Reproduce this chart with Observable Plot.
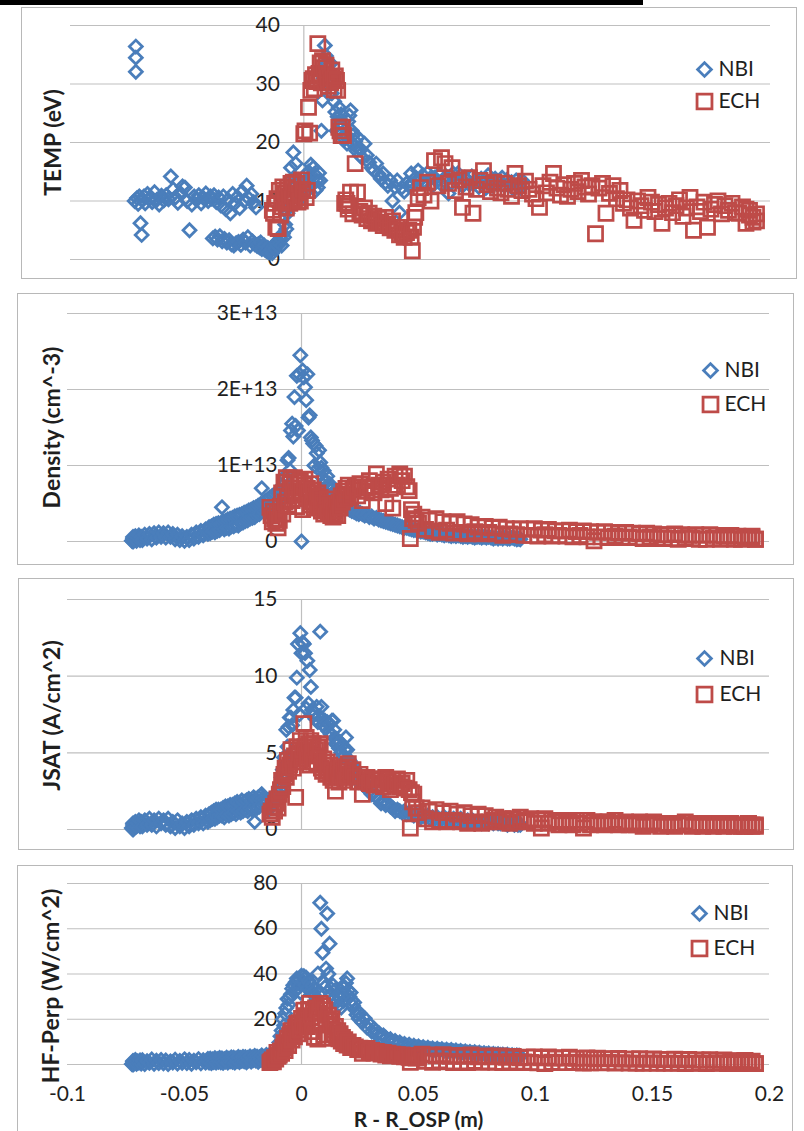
<!DOCTYPE html>
<html>
<head>
<meta charset="utf-8">
<script src="https://cdn.jsdelivr.net/npm/d3@7"></script>
<script src="https://cdn.jsdelivr.net/npm/@observablehq/plot@0.6"></script>
<style>
  html, body { margin: 0; padding: 0; background: #fff; }
  body { position: relative; width: 804px; height: 1131px; overflow: hidden; font-family: Lato, "Open Sans", sans-serif; }
  .topbar { position: absolute; left: 0; top: 0; width: 643px; height: 5px; background: #000; }
  .box { position: absolute; border: 1.5px solid #b8b8b8; box-sizing: border-box; }
</style>
</head>
<body>
<div class="topbar"></div>
<script>
// Probe sweep positions relative to the outer strike point (m)
const nbiR = [
  -0.0725,-0.072,-0.072,-0.072,-0.0715,-0.071,-0.0705,-0.070,-0.0695,-0.069,
  -0.0685,-0.068,-0.067,-0.066,-0.065,-0.064,-0.063,-0.062,-0.061,-0.060,
  -0.059,-0.058,-0.057,-0.056,-0.055,-0.054,-0.053,-0.052,-0.051,-0.050,
  -0.049,-0.048,-0.047,-0.046,-0.045,-0.044,-0.043,-0.042,-0.041,-0.040,
  -0.0395,-0.039,-0.0385,-0.038,-0.0375,-0.037,-0.0365,-0.036,-0.0355,-0.035,
  -0.0345,-0.034,-0.0335,-0.033,-0.0325,-0.032,-0.0315,-0.031,-0.0305,-0.030,
  -0.0295,-0.029,-0.0285,-0.028,-0.0275,-0.027,-0.0265,-0.026,-0.0255,-0.025,
  -0.0245,-0.024,-0.0235,-0.023,-0.0225,-0.022,-0.0215,-0.021,-0.0205,-0.020,
  -0.0195,-0.019,-0.0185,-0.018,-0.0175,-0.017,-0.0165,-0.016,-0.0155,-0.015,
  -0.0145,-0.014,-0.0135,-0.013,-0.0125,-0.012,-0.0115,-0.011,-0.0105,-0.010,
  -0.0095,-0.009,-0.0085,-0.008,-0.0075,-0.007,-0.0065,-0.006,-0.0055,-0.005,
  -0.0045,-0.004,-0.0035,-0.003,-0.0025,-0.002,-0.0015,-0.001,-0.0005,0,
  0.0005,0.001,0.0015,0.002,0.0025,0.003,0.0035,0.004,0.0045,0.005,
  0.0055,0.006,0.0065,0.007,0.0075,0.008,0.0085,0.009,0.0095,0.010,
  0.0105,0.011,0.0115,0.012,0.0125,0.013,0.0135,0.014,0.0145,0.015,
  0.0155,0.016,0.0165,0.017,0.0175,0.018,0.0185,0.019,0.0195,0.020,
  0.0205,0.021,0.0215,0.022,0.0225,0.023,0.0235,0.024,0.0245,0.025,
  0.026,0.027,0.028,0.029,0.030,0.031,0.032,0.033,0.034,0.035,
  0.036,0.037,0.038,0.039,0.040,0.041,0.042,0.043,0.044,0.045,
  0.046,0.047,0.048,0.049,0.050,0.051,0.052,0.053,0.054,0.055,
  0.056,0.057,0.058,0.059,0.060,0.061,0.062,0.063,0.064,0.065,
  0.066,0.067,0.068,0.069,0.070,0.071,0.072,0.073,0.074,0.075,
  0.076,0.077,0.078,0.079,0.080,0.081,0.082,0.083,0.084,0.085,
  0.086,0.087,0.088,0.089,0.090,0.091,0.092,0.0925,0.093,0.0935
];
const echR = [
  -0.0135,-0.013,-0.0125,-0.012,-0.0115,-0.011,-0.0105,-0.010,-0.0095,-0.009,
  -0.0085,-0.008,-0.0075,-0.007,-0.0065,-0.006,-0.0055,-0.005,-0.0045,-0.004,
  -0.0035,-0.003,-0.0025,-0.002,-0.0015,-0.001,-0.0005,0,0.0005,0.001,
  0.0015,0.002,0.0025,0.003,0.0035,0.004,0.0045,0.005,0.0055,0.006,
  0.0065,0.007,0.0075,0.008,0.0085,0.009,0.0095,0.010,0.0105,0.011,
  0.0115,0.012,0.0125,0.013,0.0135,0.014,0.0145,0.015,0.0155,0.016,
  0.0165,0.017,0.0175,0.018,0.0185,0.019,0.0195,0.020,0.021,0.022,
  0.023,0.024,0.025,0.026,0.027,0.028,0.029,0.030,0.031,0.032,
  0.033,0.034,0.035,0.036,0.037,0.038,0.039,0.040,0.041,0.042,
  0.043,0.044,0.045,0.046,0.0465,0.047,0.0475,0.048,0.049,0.050,
  0.0515,0.053,0.0545,0.056,0.0575,0.059,0.0605,0.062,0.0635,0.065,
  0.0665,0.068,0.0695,0.071,0.0725,0.074,0.0755,0.077,0.0785,0.080,
  0.0815,0.083,0.0845,0.086,0.0875,0.089,0.0905,0.092,0.0935,0.095,
  0.0965,0.098,0.0995,0.101,0.1025,0.104,0.1055,0.107,0.1085,0.110,
  0.1115,0.113,0.1145,0.116,0.1175,0.119,0.1205,0.122,0.1235,0.125,
  0.1265,0.128,0.1295,0.131,0.1325,0.134,0.1355,0.137,0.1385,0.140,
  0.1415,0.143,0.1445,0.146,0.1475,0.149,0.1505,0.152,0.1535,0.155,
  0.1565,0.158,0.1595,0.161,0.1625,0.164,0.1655,0.167,0.1685,0.170,
  0.1715,0.173,0.1745,0.176,0.1775,0.179,0.1805,0.182,0.1835,0.185,
  0.1865,0.188,0.1895,0.191,0.1925,0.194,0.1895,0.191,0.1925,0.194
];

// Electron temperature (eV)
const nbiTemp = [
  10.0,36.4,34.5,32.1,10.5,9.5,10.8,6.2,4.2,10.2,
  10.8,9.6,11.2,10.4,9.8,11.5,10.2,9.4,10.9,10.1,
  11.0,10.3,14.2,12.0,10.6,9.7,11.4,12.5,12.3,10.0,
  5.0,9.4,10.8,10.2,11.0,9.6,10.5,11.3,10.0,10.8,
  10.4,3.6,11.0,3.9,9.8,3.4,10.6,4.0,9.2,3.1,
  10.8,3.5,8.6,2.9,10.2,3.3,7.9,2.6,11.2,2.4,
  9.6,2.8,10.7,3.0,8.8,2.5,11.6,3.4,10.0,2.9,
  12.6,3.8,10.4,2.4,11.2,3.1,9.8,2.6,8.9,2.3,
  2.6,2.1,2.9,1.8,2.3,2.4,1.6,1.5,2.0,1.2,
  1.4,1.6,1.1,2.2,1.8,2.8,2.4,3.2,2.7,3.6,
  2.4,4.4,3.8,6.0,5.2,7.9,8.8,10.0,15.7,12.4,
  18.3,14.0,16.4,12.8,13.6,11.8,11.3,12.6,10.8,13.0,
  12.2,14.4,13.2,15.0,14.2,16.2,12.8,15.7,14.6,11.8,
  13.5,12.3,14.8,13.5,22.0,27.2,31.0,36.6,34.8,33.5,
  30.2,31.8,33.5,28.4,30.6,27.0,25.2,22.0,24.4,26.0,
  23.4,24.8,21.6,22.8,20.6,21.4,19.8,23.6,24.6,25.5,
  22.0,21.2,19.6,20.2,18.6,20.9,19.0,17.8,18.8,17.4,
  19.8,17.8,16.6,15.7,15.2,16.4,14.6,13.8,14.7,13.2,
  12.6,13.5,10.0,12.4,13.5,8.0,12.3,11.6,13.0,12.6,
  14.7,13.0,14.0,15.2,13.6,14.4,13.2,14.8,13.8,12.6,
  14.0,13.4,14.6,12.8,13.5,14.2,11.3,13.0,14.7,13.6,
  14.7,13.2,12.6,14.0,13.5,12.8,14.2,13.0,13.5,12.4,
  13.8,13.0,12.2,14.4,13.2,12.6,13.8,12.8,13.4,14.0,
  12.6,13.6,12.8,13.2,12.0,13.5,12.4,13.0,12.2,13.5
];
const echTemp = [
  8.4,7.9,9.6,5.5,10.4,5.3,11.8,7.6,9.0,12.4,
  10.2,11.3,8.8,12.3,10.8,9.6,13.0,11.0,13.2,10.4,
  12.0,13.0,9.8,11.4,10.0,13.6,12.0,21.5,22.0,10.6,
  11.8,26.0,21.6,28.9,30.6,30.9,29.2,31.6,30.4,36.9,
  31.8,33.6,30.2,34.0,32.8,30.4,33.2,31.0,29.6,31.1,
  30.2,32.4,30.9,29.0,31.4,30.6,28.9,22.6,22.0,21.2,
  22.6,21.2,9.6,10.2,9.6,8.6,9.2,11.5,7.8,16.4,
  11.5,8.2,7.6,8.8,7.0,7.9,6.6,7.4,6.2,7.0,
  6.4,5.8,7.2,6.0,5.4,6.6,5.0,5.5,4.2,4.4,
  3.8,4.6,5.0,3.8,1.5,5.5,7.2,8.0,10.6,12.3,
  11.0,13.2,10.0,16.9,12.6,17.4,16.4,13.0,15.7,11.8,
  13.6,8.9,12.4,14.0,7.9,12.0,13.5,15.2,12.8,11.6,
  13.2,12.2,11.4,13.0,12.0,10.8,14.7,12.6,11.8,13.4,
  12.0,11.2,10.4,8.9,12.6,11.4,13.2,14.7,12.2,11.0,
  12.8,10.8,12.0,13.0,11.6,13.5,12.4,11.2,12.6,4.4,
  12.2,13.0,7.9,11.3,12.6,10.4,11.8,9.6,10.2,8.8,
  6.7,10.0,9.2,8.4,10.6,9.8,8.2,9.4,6.2,8.8,
  9.6,8.0,9.2,10.2,7.4,8.8,10.6,5.0,9.0,8.2,
  9.8,5.5,8.6,9.4,10.0,7.8,9.2,8.4,9.6,8.0,
  7.9,9.0,6.2,8.4,7.2,6.6,8.6,7.6,6.4,7.8
];

// Electron density (units of 1E+12 cm^-3)
const nbiDens = [
  0.1,0.6,0.0,0.4,0.2,0.7,0.1,0.5,0.8,0.2,
  0.6,0.2,0.9,0.4,1.0,0.3,1.1,0.5,1.2,0.6,
  1.1,0.5,1.2,0.6,1.0,0.3,0.9,0.2,0.7,0.1,
  0.6,0.2,0.9,0.4,1.2,0.6,1.4,0.8,1.6,1.0,
  1.9,1.1,2.0,1.3,2.2,1.2,2.3,1.4,2.4,1.5,
  2.4,4.5,2.6,1.6,2.7,1.8,2.9,1.7,3.0,2.0,
  3.1,2.0,3.3,2.2,3.4,2.1,3.5,2.4,3.6,2.5,
  3.8,2.7,3.9,2.8,4.1,3.0,4.2,3.1,4.4,3.2,
  4.5,3.5,4.7,3.6,4.9,7.0,5.0,3.9,5.3,4.1,
  5.5,4.4,5.8,4.6,6.0,4.8,6.2,5.0,6.4,5.2,
  6.2,6.8,5.6,7.4,6.4,8.6,7.2,10.7,11.0,9.4,
  14.6,15.5,13.8,19.0,15.2,21.8,14.6,22.0,24.5,0.0,
  22.5,21.6,20.3,18.6,22.0,16.3,16.6,13.7,13.3,12.9,
  10.0,12.6,11.6,9.6,12.0,10.4,9.7,8.4,9.3,8.0,
  7.8,8.6,7.2,7.6,6.8,7.0,6.4,6.6,6.0,6.3,
  5.8,6.0,5.4,5.6,5.2,5.0,4.8,5.1,4.6,4.4,
  4.2,4.5,4.0,4.3,3.9,4.1,3.7,3.9,3.6,3.8,
  3.6,3.4,3.5,3.2,3.3,3.0,3.1,2.9,2.8,2.7,
  2.6,2.5,2.4,2.3,2.2,2.1,2.0,1.9,1.8,1.8,
  1.7,1.6,1.5,1.5,1.4,1.3,1.3,1.2,1.1,1.0,
  1.0,1.1,0.9,1.0,0.9,0.8,0.9,0.8,0.7,0.8,
  0.7,0.8,0.7,0.6,0.7,0.6,0.7,0.6,0.5,0.6,
  0.6,0.5,0.6,0.5,0.6,0.5,0.4,0.5,0.4,0.5,
  0.4,0.5,0.4,0.4,0.5,0.4,0.3,0.4,0.4,0.3
];
const echDens = [
  4.5,3.4,2.6,4.0,3.0,2.4,3.8,1.8,2.8,4.6,
  6.4,3.6,7.8,5.2,8.4,6.0,4.8,7.6,8.2,5.4,
  7.0,8.4,6.2,4.6,7.8,5.6,8.0,6.6,4.2,7.4,
  8.2,5.8,7.0,6.4,4.8,7.6,5.2,6.8,4.4,6.0,
  5.4,6.4,4.6,5.8,4.0,5.0,3.6,4.8,4.2,5.6,
  3.8,4.6,3.4,4.4,3.2,4.0,3.6,4.8,3.4,5.2,
  4.4,6.0,5.2,6.6,5.6,7.0,6.2,7.4,5.8,6.8,
  7.2,6.0,7.6,5.4,7.0,6.6,8.0,7.2,6.4,8.9,
  7.4,6.8,7.8,5.0,8.2,7.0,4.4,8.6,7.4,8.9,
  8.0,8.6,7.2,6.7,0.4,4.2,3.0,3.6,2.8,2.4,
  3.2,1.6,2.8,1.4,3.0,1.2,2.6,1.5,2.4,1.1,
  2.6,1.2,2.3,1.0,2.2,1.3,1.9,1.0,2.0,1.2,
  1.8,1.0,1.9,0.8,1.7,1.0,1.6,0.9,1.7,0.8,
  1.6,0.8,1.7,0.7,1.5,0.9,1.6,0.7,1.4,0.8,
  1.4,0.7,1.5,0.6,1.3,0.8,1.4,0.6,1.3,0.1,
  1.2,0.6,1.3,0.5,1.2,0.7,1.1,0.5,1.2,0.6,
  1.1,0.5,1.0,0.4,1.1,0.6,1.0,0.4,0.9,0.5,
  0.9,0.4,1.0,0.3,0.9,0.5,0.8,0.4,0.9,0.3,
  0.8,0.3,0.9,0.4,0.8,0.3,0.7,0.4,0.8,0.3,
  0.7,0.3,0.6,0.4,0.7,0.3,0.5,0.4,0.6,0.3
];

// Ion saturation current density (A/cm^2)
const nbiJsat = [
  0.1,0.4,0.0,0.3,0.1,0.5,0.2,0.4,0.6,0.2,
  0.5,0.2,0.6,0.3,0.7,0.3,0.6,0.2,0.7,0.4,
  0.6,0.3,0.7,0.2,0.5,0.1,0.6,0.2,0.4,0.1,
  0.5,0.2,0.6,0.3,0.7,0.4,0.8,0.4,0.9,0.5,
  1.0,0.6,1.1,0.7,1.2,0.7,1.3,0.8,1.3,0.9,
  1.3,0.9,1.4,0.8,1.5,1.0,1.5,0.9,1.6,1.0,
  1.6,1.1,1.7,1.0,1.8,1.2,1.7,1.1,1.9,1.2,
  1.8,1.3,1.9,1.2,2.0,1.4,1.9,1.3,2.1,0.5,
  2.0,1.4,2.1,1.5,2.2,2.3,2.0,1.6,1.9,1.4,
  1.8,1.3,2.0,1.5,2.1,1.7,1.9,2.2,2.0,2.4,
  2.6,3.0,3.4,3.9,4.7,4.2,6.5,5.4,6.7,7.3,
  7.3,6.8,7.8,8.6,8.6,9.9,12.1,7.5,12.8,11.5,
  12.2,12.1,11.5,7.9,11.0,8.2,10.4,9.3,7.8,7.4,
  7.6,7.2,8.0,7.0,7.4,12.9,8.0,7.2,6.8,7.1,
  6.6,7.0,6.4,6.9,6.2,7.1,7.1,6.5,5.6,5.9,
  5.6,5.3,5.7,5.0,5.5,4.8,5.2,6.0,5.2,4.6,
  4.5,4.1,4.3,3.8,4.0,3.6,3.4,3.5,3.1,3.2,
  3.0,2.8,2.9,2.5,2.3,2.4,2.1,2.0,1.7,1.9,
  1.6,1.7,1.5,1.4,1.2,1.3,1.2,1.1,1.2,1.0,
  1.1,1.0,0.9,1.0,0.9,0.8,0.9,0.8,0.9,0.7,
  0.8,0.7,0.8,0.6,0.7,0.8,0.6,0.7,0.6,0.7,
  0.6,0.5,0.7,0.6,0.5,0.6,0.5,0.6,0.4,0.5,
  0.5,0.4,0.5,0.6,0.4,0.5,0.4,0.5,0.4,0.4,
  0.5,0.4,0.3,0.4,0.5,0.3,0.4,0.3,0.4,0.3
];
const echJsat = [
  1.0,1.2,0.8,1.5,1.2,1.7,2.0,1.4,2.3,2.6,
  3.2,2.8,3.6,4.0,3.4,4.5,3.8,4.2,5.2,4.6,
  4.0,4.8,2.1,5.4,4.4,5.0,5.8,4.6,5.2,6.9,
  5.4,6.0,4.8,5.6,4.2,5.8,5.0,5.6,4.4,5.2,
  4.3,5.4,4.8,5.6,4.0,3.8,4.6,4.2,3.6,4.4,
  3.8,4.2,3.4,3.9,3.2,3.6,2.5,3.4,3.8,3.1,
  3.6,4.0,3.4,3.8,3.2,4.1,3.5,4.3,3.6,3.9,
  3.4,3.1,3.6,2.3,3.2,3.4,3.0,3.3,2.9,3.2,
  3.0,3.3,2.8,3.4,3.1,2.6,3.2,2.9,3.3,2.8,
  3.0,2.7,3.2,2.6,0.1,2.4,1.8,2.3,1.4,1.1,
  1.4,0.7,1.2,0.5,1.3,0.6,1.1,0.5,1.2,0.6,
  1.0,0.5,1.1,0.4,0.9,0.5,1.0,0.4,0.9,0.5,
  0.6,0.8,0.5,0.7,0.6,0.4,0.7,0.5,0.8,0.6,
  0.5,0.7,0.4,0.6,0.1,0.7,0.4,0.6,0.5,0.3,
  0.6,0.4,0.5,0.3,0.6,0.4,0.1,0.6,0.3,0.5,
  0.4,0.5,0.3,0.5,0.4,0.6,0.3,0.4,0.5,0.3,
  0.4,0.3,0.5,0.2,0.4,0.3,0.5,0.4,0.2,0.4,
  0.3,0.4,0.2,0.4,0.3,0.5,0.3,0.2,0.4,0.3,
  0.2,0.4,0.3,0.2,0.4,0.3,0.2,0.3,0.4,0.2,
  0.3,0.2,0.3,0.4,0.2,0.3,0.2,0.4,0.3,0.2
];

// Perpendicular heat flux (W/cm^2)
const nbiHf = [
  0.2,1.6,0.0,1.2,0.5,2.0,0.3,1.4,0.8,1.8,
  0.4,1.9,0.2,1.5,0.7,2.2,0.3,1.7,0.6,2.0,
  0.5,1.8,0.2,1.4,0.9,2.1,0.4,1.6,0.7,2.3,
  0.6,2.0,0.3,1.7,1.0,2.4,0.5,1.9,0.8,2.5,
  0.9,2.6,0.6,2.2,1.1,2.8,0.8,2.4,1.2,2.9,
  1.0,2.7,0.7,2.4,1.3,3.0,0.9,2.6,1.4,3.1,
  1.2,3.0,0.8,2.7,1.5,3.3,1.1,2.9,1.6,3.4,
  1.4,3.2,1.0,2.9,1.8,3.6,1.3,3.1,2.0,3.8,
  1.7,3.5,1.2,3.2,2.1,4.0,1.6,3.4,2.3,4.2,
  2.0,3.9,1.6,3.6,2.6,4.6,2.2,4.4,3.2,5.2,
  9.7,12.5,15.0,20.0,17.2,22.5,25.0,29.0,26.4,29.6,
  31.0,33.5,35.0,32.2,36.4,38.0,34.0,37.2,31.8,39.3,
  36.8,39.0,35.2,38.4,33.6,37.0,36.0,32.6,34.8,31.8,
  30.4,33.0,28.6,40.2,31.2,71.5,60.0,49.4,36.0,34.2,
  42.4,66.7,40.0,53.4,33.6,31.0,35.0,29.2,33.0,27.6,
  30.6,26.4,29.0,25.2,31.4,28.0,34.2,36.0,38.0,32.7,
  30.0,31.8,28.3,26.0,27.4,24.2,22.0,23.4,20.2,22.5,
  18.6,20.4,16.3,17.8,14.6,15.8,13.2,14.0,12.0,12.8,
  11.9,10.6,11.2,9.8,10.4,9.3,9.8,8.6,9.1,8.2,
  8.8,7.8,8.3,7.5,8.0,7.2,7.7,6.9,7.4,6.8,
  7.1,6.5,7.0,6.3,6.8,6.1,6.6,6.0,6.4,5.8,
  6.2,5.6,6.0,5.4,5.8,5.2,5.6,5.0,5.4,4.9,
  5.2,4.7,5.0,4.6,4.9,4.4,4.7,4.3,4.6,4.2,
  4.4,4.0,4.3,3.9,4.1,3.8,4.0,3.7,3.9,3.6
];
const echHf = [
  0.8,1.4,2.0,1.2,3.0,2.4,5.3,3.6,4.2,6.0,
  4.9,7.4,9.7,6.2,9.3,11.6,8.4,13.0,15.0,10.8,
  14.0,12.2,16.4,18.0,13.6,18.5,15.2,20.4,17.0,24.0,
  19.4,21.6,16.8,24.4,27.0,20.6,14.6,23.2,12.0,25.0,
  24.7,11.2,22.6,27.0,18.4,26.0,13.0,24.2,20.0,11.6,
  21.8,19.4,17.6,20.3,15.4,13.2,16.8,12.8,15.0,11.4,
  13.6,10.4,12.0,9.2,11.0,9.7,8.6,10.0,7.5,8.4,
  7.8,6.6,7.2,4.9,6.4,7.1,5.6,6.2,5.0,5.8,
  5.4,4.6,5.3,4.2,5.0,3.8,4.6,4.0,4.4,3.6,
  4.2,3.4,4.0,3.2,1.0,3.6,3.0,3.4,2.8,3.2,
  4.6,1.4,4.2,1.0,3.8,1.6,4.4,1.2,3.6,0.8,
  4.0,1.2,3.6,0.9,4.2,1.4,3.4,1.0,3.8,1.2,
  3.4,1.0,3.8,0.8,3.2,1.2,3.6,0.9,3.0,1.1,
  3.2,0.9,3.4,0.7,3.0,0.4,3.3,1.0,2.8,0.8,
  3.0,0.8,3.2,1.0,2.7,0.9,0.6,2.9,0.7,2.6,
  2.8,0.7,2.6,0.9,2.5,0.6,2.7,0.8,2.4,0.6,
  2.4,0.6,2.6,0.5,2.3,0.7,2.5,0.5,2.2,0.6,
  2.2,0.5,2.4,0.6,2.1,0.4,2.3,0.5,2.0,0.6,
  1.9,0.4,2.1,0.5,1.8,0.6,2.0,0.4,1.7,0.5,
  1.6,0.4,1.8,0.5,1.5,0.4,1.6,0.5,1.4,0.4
];

// Axis ticks and labels
const series = ["NBI", "ECH"];
const tempTicks = [0, 10, 20, 30, 40];
const tempTickLabels = ["0", "10", "20", "30", "40"];
const densTicks = [0, 1e13, 2e13, 3e13];
const densTickLabels = ["0", "1E+13", "2E+13", "3E+13"];
const jsatTicks = [0, 5, 10, 15];
const jsatTickLabels = ["0", "5", "10", "15"];
const hfTicks = [0, 20, 40, 60, 80];
const hfTickLabels = ["0", "20", "40", "60", "80"];
const rTicks = [-0.1, -0.05, 0, 0.05, 0.1, 0.15, 0.2];
const rTickLabels = ["-0.1", "-0.05", "0", "0.05", "0.1", "0.15", "0.2"];

const GRID = "#bfbfbf", INK = "#1f1f1f", BLUE = "#4a7ebb", RED = "#be4b48";
const FONT = "Lato, 'Open Sans', sans-serif";

function drawPanel(p) {
  const box = document.createElement("div");
  box.className = "box";
  Object.assign(box.style, {left: p.box[0] + "px", top: p.box[1] + "px", width: p.box[2] + "px", height: p.box[3] + "px"});
  document.body.append(box);

  const nbiRows = nbiR.map((r, i) => ({r, v: p.nbi[i] * p.unit}));
  const echRows = echR.map((r, i) => ({r, v: p.ech[i] * p.unit}));
  const ymax = p.ticks[p.ticks.length - 1];
  const [lx, ly1, ly2, ltx] = p.legend;

  const marks = [
    Plot.ruleY(p.ticks, {stroke: GRID, strokeWidth: 1.2}),
    Plot.ruleX([0], {y1: 0, y2: ymax, stroke: GRID, strokeWidth: 1.2}),
    Plot.text(p.ticks, {x: 0, y: (d) => d, text: (d, i) => p.tickLabels[i], textAnchor: "end", lineAnchor: "middle", dx: -24, fontSize: 21, fill: INK}),
    Plot.dot(nbiRows, {x: "r", y: "v", symbol: "diamond2", r: 5.8, stroke: BLUE, strokeWidth: 2.8}),
    Plot.dot(echRows, {x: "r", y: "v", symbol: "square2", r: 9, stroke: RED, strokeWidth: 2.7}),
    Plot.text([p.label], {frameAnchor: "left", rotate: -90, textAnchor: "middle", lineAnchor: "middle", dx: p.labelDx, dy: p.labelDy, fontSize: 23, fontWeight: "bold", fill: INK}),
    Plot.dot([series[0]], {frameAnchor: "top-left", dx: lx, dy: ly1, symbol: "diamond2", r: 6.2, stroke: BLUE, strokeWidth: 2.8}),
    Plot.dot([series[1]], {frameAnchor: "top-left", dx: lx, dy: ly2, symbol: "square2", r: 9.5, stroke: RED, strokeWidth: 2.8}),
    Plot.text([series[0]], {frameAnchor: "top-left", dx: ltx, dy: ly1, textAnchor: "start", lineAnchor: "middle", fontSize: 21, fill: INK}),
    Plot.text([series[1]], {frameAnchor: "top-left", dx: ltx, dy: ly2, textAnchor: "start", lineAnchor: "middle", fontSize: 21, fill: INK})
  ];
  if (p.xAxis) {
    marks.push(
      Plot.text(rTicks, {x: (d) => d, frameAnchor: "bottom", lineAnchor: "middle", dy: 30, text: (d, i) => rTickLabels[i], fontSize: 21, fill: INK}),
      Plot.text(["R - R_OSP (m)"], {frameAnchor: "bottom", textAnchor: "middle", lineAnchor: "middle", dy: 55.6, fontSize: 21, fontWeight: "bold", fill: INK})
    );
  }

  const svg = Plot.plot({
    width: 804,
    height: p.height,
    marginLeft: p.ml, marginRight: p.mr, marginTop: p.mt, marginBottom: p.mb,
    x: {domain: [-0.1, 0.2], axis: null},
    y: {domain: [0, ymax], axis: null},
    style: {background: "transparent", overflow: "visible", fontFamily: FONT},
    marks
  });
  Object.assign(svg.style, {position: "absolute", left: "0px", top: p.top + "px"});
  document.body.append(svg);
}

drawPanel({top: 7, height: 272, ml: 70, mr: 34, mt: 18, mb: 20, box: [21, 7, 776, 272],
  ticks: tempTicks, tickLabels: tempTickLabels, unit: 1, nbi: nbiTemp, ech: echTemp,
  label: "TEMP (eV)", labelDx: -17, labelDy: 0, legend: [634, 44, 76, 648]});
drawPanel({top: 293, height: 272, ml: 67, mr: 35, mt: 20, mb: 24, box: [17, 293, 777, 272],
  ticks: densTicks, tickLabels: densTickLabels, unit: 1e12, nbi: nbiDens, ech: echDens,
  label: "Density (cm^-3)", labelDx: -15, labelDy: 0, legend: [643, 57, 91, 657]});
drawPanel({top: 578, height: 272, ml: 67, mr: 35, mt: 21, mb: 21, box: [18, 578, 776, 272],
  ticks: jsatTicks, tickLabels: jsatTickLabels, unit: 1, nbi: nbiJsat, ech: echJsat,
  label: "JSAT (A/cm^2)", labelDx: -15, labelDy: 1, legend: [637, 59, 95, 652]});
drawPanel({top: 865, height: 266, ml: 67, mr: 35, mt: 18, mb: 67, box: [17, 865, 776, 290],
  ticks: hfTicks, tickLabels: hfTickLabels, unit: 1, nbi: nbiHf, ech: echHf,
  label: "HF-Perp (W/cm^2)", labelDx: -16, labelDy: 12, legend: [632, 30, 65, 646], xAxis: true});
</script>
</body>
</html>
